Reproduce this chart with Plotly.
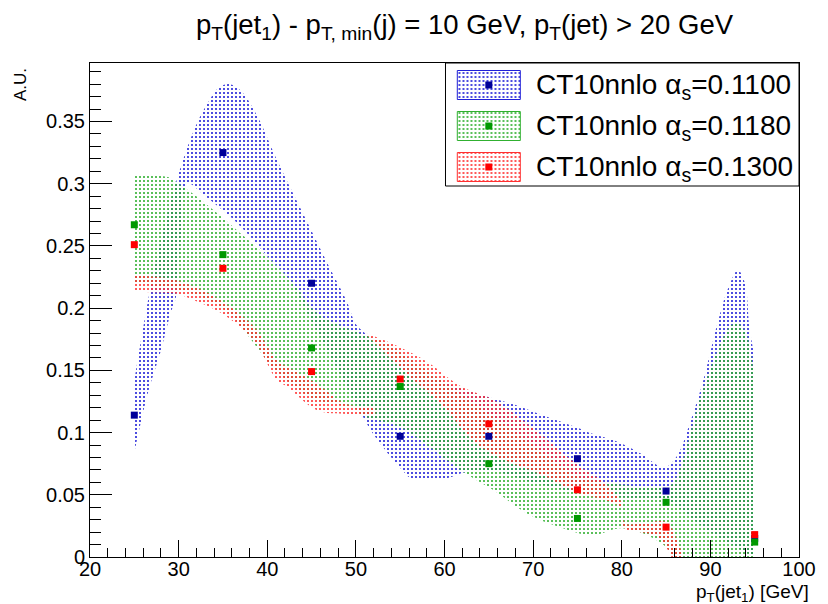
import plotly.graph_objects as go

# ---- bin centres and central values -------------------------------------
x_bins = [25, 35, 45, 55, 65, 75, 85, 95]
blue_vals = [0.114, 0.325, 0.220, 0.097, 0.097, 0.079, 0.053, 0.015]
green_vals = [0.267, 0.243, 0.168, 0.137, 0.075, 0.031, 0.044, 0.012]
red_vals = [0.251, 0.232, 0.149, 0.143, 0.107, 0.054, 0.024, 0.018]

# ---- smoothed uncertainty bands: upper / lower edges ---------------------
blue_up_x = [25, 26.7, 28, 30, 31.9, 33.3, 34.5, 35.7, 37, 38.9, 41.1, 44.8, 47, 49, 50,
             51, 53, 57, 62, 67.4, 69.6, 71.1, 74.8, 76.7, 79.6, 82.2, 84.8, 86.3, 87.8,
             89.2, 90.7, 91.9, 93.1, 93.9, 94.4, 95]
blue_up_y = [0.142, 0.212, 0.255, 0.308, 0.346, 0.365, 0.377, 0.380, 0.375, 0.354, 0.319,
             0.265, 0.233, 0.205, 0.187, 0.180, 0.166, 0.150, 0.135, 0.1235, 0.118, 0.114,
             0.1045, 0.099, 0.0925, 0.083, 0.072, 0.082, 0.110, 0.142, 0.185, 0.214, 0.2305,
             0.220, 0.185, 0.160]
blue_lo_x = [25, 26.5, 28, 29.1, 29.7, 30.3, 31, 33, 35.9, 38, 40.2, 42.2, 45, 48, 50.7,
             52.2, 55.6, 56.3, 60, 62.2, 65, 70, 75, 80, 85, 90, 95]
blue_lo_y = [0.084, 0.131, 0.166, 0.196, 0.209, 0.262, 0.300, 0.290, 0.273, 0.258, 0.240,
             0.225, 0.190, 0.150, 0.114, 0.0965, 0.067, 0.063, 0.063, 0.068, 0.070, 0.060,
             0.052, 0.048, 0.045, 0.020, 0.000]

green_up_x = [25, 29, 29.6, 32, 34.4, 37, 39.6, 43.3, 45, 47, 50, 53.3, 57, 62, 66, 70,
              75, 78, 80, 84, 85.6, 88.9, 90.7, 92.2, 93, 94, 95]
green_up_y = [0.307, 0.305, 0.302, 0.290, 0.276, 0.260, 0.244, 0.217, 0.200, 0.190, 0.181,
              0.172, 0.155, 0.130, 0.110, 0.090, 0.065, 0.060, 0.058, 0.056, 0.058, 0.129,
              0.164, 0.185, 0.188, 0.180, 0.140]
green_lo_x = [25, 30, 35, 41, 45, 50, 50.7, 55, 58, 62.2, 65.6, 69.3, 73, 76.7, 79.6, 82,
              85, 87, 95]
green_lo_y = [0.220, 0.215, 0.200, 0.150, 0.128, 0.119, 0.114, 0.1045, 0.090, 0.068,
              0.0535, 0.035, 0.024, 0.0175, 0.023, 0.020, 0.008, -0.010, -0.010]

# the red band twists, so it is filled as three lobes
red_a_up_x = [25, 28.9, 31.5, 34.8, 38.5, 41.1, 42.2, 45.6, 48.9, 52.2]
red_a_up_y = [0.2265, 0.2238, 0.218, 0.206, 0.185, 0.158, 0.153, 0.139, 0.123, 0.121]
red_a_lo_x = [25, 29.6, 31.5, 34.8, 38.5, 41.1, 42.2, 45.6, 48.9, 52.2]
red_a_lo_y = [0.213, 0.2117, 0.207, 0.196, 0.174, 0.142, 0.137, 0.118, 0.115, 0.114]

red_b_up_x = [51, 53.3, 57.8, 61.9, 65.6, 70.6, 75, 78, 80]
red_b_up_y = [0.180, 0.174, 0.158, 0.137, 0.126, 0.100, 0.074, 0.060, 0.044]
red_b_lo_x = [51, 55, 60, 63, 65.6, 71, 75, 78.5, 80]
red_b_lo_y = [0.180, 0.152, 0.120, 0.095, 0.082, 0.066, 0.052, 0.045, 0.040]

red_c_up_x = [80, 80.4, 83, 85, 86.3, 87.2]
red_c_up_y = [0.040, 0.027, 0.028, 0.028, 0.013, -0.010]
red_c_lo_x = [80, 80.4, 82, 84.1, 85.6, 86.2]
red_c_lo_y = [0.040, 0.022, 0.020, 0.016, 0.000, -0.010]

labels = ["CT10nnlo \u03b1<sub>s</sub>=0.1100",
          "CT10nnlo \u03b1<sub>s</sub>=0.1180",
          "CT10nnlo \u03b1<sub>s</sub>=0.1300"]

band_colors = ["#2020d8", "#30b030", "#ff3030"]
marker_colors = ["#000099", "#009900", "#ff0000"]

FONT = "Liberation Sans, Arial, Helvetica, sans-serif"

# plot frame in pixels (left, right, top, bottom)
FL, FR, FT, FB = 90, 810, 63, 557
W, H = 828, 604
PW, PH = FR - FL, FB - FT


def px_x(px):
    return (px - FL) / PW


def px_y(py):
    return 1 - (py - FT) / PH


def dot_pattern(color):
    return dict(shape=".", size=4, solidity=0.22, fgcolor=color, fgopacity=1.0,
                bgcolor="rgba(0,0,0,0)")


fig = go.Figure()

bands = [
    (blue_lo_x, blue_lo_y, blue_up_x, blue_up_y, band_colors[0]),
    (green_lo_x, green_lo_y, green_up_x, green_up_y, band_colors[1]),
    (red_a_lo_x, red_a_lo_y, red_a_up_x, red_a_up_y, band_colors[2]),
    (red_b_lo_x, red_b_lo_y, red_b_up_x, red_b_up_y, band_colors[2]),
    (red_c_lo_x, red_c_lo_y, red_c_up_x, red_c_up_y, band_colors[2]),
]

for lx, ly, ux, uy, col in bands:
    fig.add_trace(go.Scatter(x=lx, y=ly, mode="lines", line=dict(width=0, shape="spline"),
                             showlegend=False, hoverinfo="skip"))
    fig.add_trace(go.Scatter(x=ux, y=uy, mode="lines", line=dict(width=0, shape="spline"),
                             fill="tonexty", fillcolor="rgba(0,0,0,0)",
                             fillpattern=dot_pattern(col),
                             showlegend=False, hoverinfo="skip"))

for vals, mc in zip([blue_vals, green_vals, red_vals], marker_colors):
    fig.add_trace(go.Scatter(x=x_bins, y=vals, mode="markers",
                             marker=dict(symbol="square", size=7, color=mc,
                                         line=dict(width=0)),
                             showlegend=False))

# ---- legend: drawn on a small pixel-unit axis in the top-right corner ----
LEG_L, LEG_B = 451, 186
swatch_x0, swatch_x1 = 463, 527
row_centres = [85, 126, 167]
for col, mc, lab, yc in zip(band_colors, marker_colors, labels, row_centres):
    fig.add_trace(go.Scatter(x=[swatch_x0, swatch_x0, swatch_x1, swatch_x1, swatch_x0],
                             y=[yc + 14.5, yc - 14.5, yc - 14.5, yc + 14.5, yc + 14.5],
                             mode="lines", line=dict(color=col, width=1),
                             fill="toself", fillcolor="rgba(0,0,0,0)",
                             fillpattern=dot_pattern(col),
                             xaxis="x2", yaxis="y2", showlegend=False, hoverinfo="skip"))
    fig.add_trace(go.Scatter(x=[(swatch_x0 + swatch_x1) / 2], y=[yc], mode="markers",
                             marker=dict(symbol="square", size=7, color=mc),
                             xaxis="x2", yaxis="y2", showlegend=False, hoverinfo="skip"))
    fig.add_annotation(xref="x2", yref="y2", x=541, y=yc + 1, xanchor="left",
                       yanchor="middle", text=lab, showarrow=False,
                       font=dict(family=FONT, size=28, color="black"))

fig.add_shape(type="rect", xref="paper", yref="paper",
              x0=px_x(LEG_L), x1=1.0, y0=px_y(LEG_B), y1=1.0,
              line=dict(color="black", width=1), fillcolor="rgba(0,0,0,0)")

fig.update_layout(
    width=W, height=H,
    margin=dict(l=FL, r=W - FR, t=FT, b=H - FB),
    paper_bgcolor="white", plot_bgcolor="white",
    font=dict(family=FONT, color="black"),
    showlegend=False,
    xaxis=dict(range=[20, 100], showgrid=False, zeroline=False, showline=True,
               linecolor="black", linewidth=1, mirror=True,
               ticks="inside", ticklen=17, tickcolor="black", dtick=10, tick0=20,
               tickfont=dict(family=FONT, size=20), ticklabelstandoff=-6,
               minor=dict(ticks="inside", ticklen=9, dtick=2, tickcolor="black",
                          showgrid=False)),
    yaxis=dict(range=[0, 0.397], showgrid=False, zeroline=False, showline=True,
               linecolor="black", linewidth=1, mirror=True,
               ticks="inside", ticklen=22, tickcolor="black", dtick=0.05, tick0=0,
               tickformat="~g",
               tickfont=dict(family=FONT, size=20),
               minor=dict(ticks="inside", ticklen=11, dtick=0.01, tickcolor="black",
                          showgrid=False)),
    xaxis2=dict(domain=[px_x(LEG_L), 1.0], range=[LEG_L, FR], visible=False,
                anchor="y2", fixedrange=True),
    yaxis2=dict(domain=[px_y(LEG_B), 1.0], range=[LEG_B, FT], visible=False,
                anchor="x2", fixedrange=True),
)

fig.add_annotation(xref="paper", yref="paper", x=px_x(471), y=px_y(46),
                   xanchor="center", yanchor="bottom", showarrow=False,
                   text="p<sub>T</sub>(jet<sub>1</sub>) - p<sub>T, min</sub>(j) = 10 GeV, "
                        "p<sub>T</sub>(jet) > 20 GeV",
                   font=dict(family=FONT, size=27.5))
fig.add_annotation(xref="paper", yref="paper", x=px_x(822), y=px_y(579),
                   xanchor="right", yanchor="top", showarrow=False,
                   text="p<sub>T</sub>(jet<sub>1</sub>) [GeV]",
                   font=dict(family=FONT, size=19))
fig.add_annotation(xref="paper", yref="paper", x=px_x(20), y=px_y(85),
                   xanchor="center", yanchor="middle", showarrow=False, textangle=-90,
                   text="A.U.", font=dict(family=FONT, size=17))

fig.write_html("out.html")
